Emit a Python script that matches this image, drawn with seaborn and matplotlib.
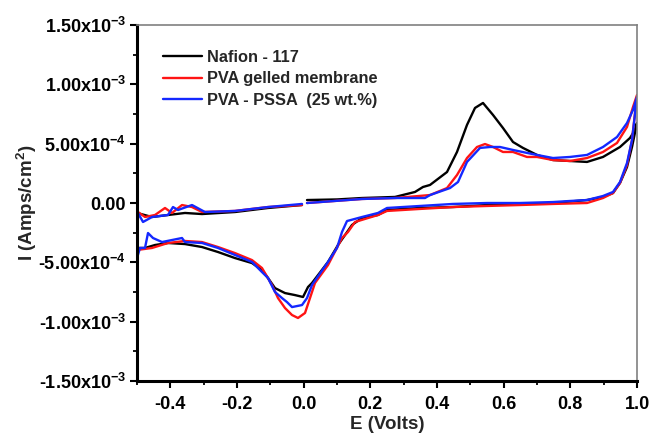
import numpy as np
import matplotlib
matplotlib.use("Agg")
import matplotlib.pyplot as plt
import seaborn as sns
from matplotlib.ticker import FixedLocator, FixedFormatter, MultipleLocator

sns.set_style("ticks")
plt.rcParams["font.family"] = ["Liberation Sans", "DejaVu Sans"]
plt.rcParams["font.weight"] = "bold"
plt.rcParams["mathtext.fontset"] = "custom"
plt.rcParams["mathtext.rm"] = "Liberation Sans:bold"
plt.rcParams["mathtext.bf"] = "Liberation Sans:bold"
plt.rcParams["mathtext.it"] = "Liberation Sans:bold"
plt.rcParams["mathtext.default"] = "bf"

# Cyclic voltammograms: scan 0 V -> 1.0 V -> -0.5 V -> 0 V.
# Potentials in V, current densities in units of 1e-4 A/cm^2.
E_nafion = [0.010, 0.100, 0.175, 0.274, 0.334, 0.358, 0.379, 0.430, 0.460, 0.490,
            0.514, 0.538, 0.568, 0.598, 0.628, 0.658, 0.700, 0.748, 0.799, 0.850,
            0.898, 0.949, 0.979, 0.994, 1.000,
            0.985, 0.970, 0.949, 0.928, 0.898, 0.850, 0.748, 0.649, 0.550, 0.448,
            0.349, 0.250, 0.223, 0.175, 0.145, 0.124, 0.103, 0.073, 0.025, 0.013,
            -0.002, -0.026, -0.056, -0.086, -0.107, -0.125, -0.155, -0.206, -0.257,
            -0.305, -0.356, -0.407, -0.446, -0.476, -0.500,
            -0.500, -0.455, -0.407, -0.356, -0.305, -0.206, -0.107, -0.005]
I_nafion = [0.25, 0.30, 0.42, 0.51, 0.93, 1.35, 1.52, 2.61, 4.30, 6.58,
            8.01, 8.43, 7.42, 6.32, 5.14, 4.64, 4.05, 3.62, 3.54, 3.46,
            3.88, 4.72, 5.48, 6.15, 6.74,
            4.72, 3.03, 1.69, 0.84, 0.51, 0.25, 0.00, -0.08, -0.17, -0.34,
            -0.42, -0.59, -1.01, -1.26, -1.85, -2.70, -3.54, -4.97, -6.74, -7.08,
            -7.92, -7.76, -7.59, -7.17, -6.32, -5.65, -5.06, -4.64, -4.13,
            -3.71, -3.46, -3.37, -3.54, -3.79, -3.79,
            -0.84, -1.18, -1.01, -0.84, -0.93, -0.76, -0.42, -0.17]

E_pva = [0.010, 0.175, 0.274, 0.379, 0.430, 0.460, 0.490, 0.520, 0.544, 0.568,
         0.598, 0.628, 0.670, 0.700, 0.748, 0.799, 0.850, 0.898, 0.940, 0.970,
         0.988, 1.000,
         0.985, 0.970, 0.949, 0.928, 0.898, 0.850, 0.748, 0.649, 0.550, 0.448,
         0.349, 0.250, 0.223, 0.154, 0.133, 0.115, 0.073, 0.034, 0.019, 0.004,
         -0.017, -0.035, -0.056, -0.077, -0.095, -0.125, -0.155, -0.206, -0.257,
         -0.305, -0.356, -0.407, -0.455, -0.500,
         -0.497, -0.476, -0.446, -0.416, -0.395, -0.365, -0.335, -0.305, -0.206,
         -0.107, -0.005]
I_pva = [0.00, 0.34, 0.42, 0.67, 1.26, 2.36, 3.79, 4.72, 4.97, 4.72,
         4.30, 4.30, 3.88, 3.88, 3.62, 3.54, 3.79, 4.30, 5.06, 6.41,
         8.09, 9.10,
         5.30, 3.20, 1.69, 0.84, 0.42, 0.00, -0.08, -0.17, -0.25, -0.34,
         -0.50, -0.67, -1.01, -1.60, -2.44, -2.95, -5.23, -6.74, -8.01, -9.27,
         -9.69, -9.44, -8.85, -8.01, -6.91, -5.48, -4.81, -4.22, -3.71,
         -3.29, -3.20, -3.37, -3.79, -3.96,
         -0.76, -1.18, -1.01, -0.42, -0.84, -0.17, -0.34, -0.76, -0.67,
         -0.34, -0.17]

E_pssa = [0.010, 0.175, 0.274, 0.364, 0.379, 0.439, 0.463, 0.490, 0.529, 0.559,
          0.589, 0.628, 0.670, 0.700, 0.748, 0.799, 0.850, 0.898, 0.940, 0.970,
          0.988, 1.000,
          0.985, 0.970, 0.949, 0.928, 0.898, 0.850, 0.799, 0.748, 0.649, 0.550,
          0.448, 0.349, 0.250, 0.223, 0.175, 0.130, 0.115, 0.100, 0.073, 0.025,
          0.010, -0.005, -0.035, -0.050, -0.065, -0.086, -0.107, -0.125, -0.155,
          -0.206, -0.257, -0.305, -0.356, -0.365, -0.425, -0.452, -0.467, -0.476,
          -0.491, -0.500,
          -0.497, -0.482, -0.455, -0.407, -0.392, -0.377, -0.335, -0.296, -0.206,
          -0.107, -0.005]
I_pssa = [0.00, 0.34, 0.42, 0.42, 0.67, 1.26, 1.77, 3.46, 4.64, 4.72,
          4.72, 4.47, 4.22, 4.05, 3.79, 3.88, 4.05, 4.72, 5.56, 6.74,
          7.84, 8.94,
          5.30, 3.37, 1.77, 0.93, 0.59, 0.25, 0.17, 0.08, 0.00, 0.00,
          -0.08, -0.25, -0.42, -0.84, -1.18, -1.52, -2.44, -3.79, -4.97, -6.91,
          -8.01, -8.60, -8.77, -8.35, -8.01, -7.50, -6.32, -5.82, -4.97,
          -4.38, -3.79, -3.37, -3.29, -2.95, -3.29, -2.95, -2.53, -3.79,
          -3.79, -4.64,
          -0.84, -1.60, -1.18, -1.01, -0.34, -0.59, -0.17, -0.76, -0.67,
          -0.34, -0.08]

labels = ["Nafion - 117", "PVA gelled membrane", "PVA - PSSA  (25 wt.%)"]
colors = ["#000000", "#ff1414", "#1428ff"]

x_ticks = [-0.4, -0.2, 0.0, 0.2, 0.4, 0.6, 0.8, 1.0]
x_ticklabels = ["-0.4", "-0.2", "0.0", "0.2", "0.4", "0.6", "0.8", "1.0"]
y_ticks = [1.5e-3, 1.0e-3, 5.0e-4, 0.0, -5.0e-4, -1.0e-3, -1.5e-3]
y_ticklabels = ["1.50x10$^{-3}$", "1.00x10$^{-3}$", "5.00x10$^{-4}$", "0.00",
                "-5.00x10$^{-4}$", "-1.00x10$^{-3}$", "-1.50x10$^{-3}$"]

fig = plt.figure(figsize=(6.53, 4.34), dpi=100)
ax = fig.add_axes([137 / 653, 53 / 434, 500 / 653, 356 / 434])

series = [(E_nafion, I_nafion), (E_pva, I_pva), (E_pssa, I_pssa)]
for (e, i), lab, col in zip(series, labels, colors):
    sns.lineplot(x=np.asarray(e), y=np.asarray(i) * 1e-4, sort=False,
                 estimator=None, color=col, lw=1.7, label=lab, ax=ax)

ax.set_xlim(-0.5, 1.0)
ax.set_ylim(-1.5e-3, 1.5e-3)

ax.xaxis.set_major_locator(FixedLocator(x_ticks))
ax.xaxis.set_major_formatter(FixedFormatter(x_ticklabels))
ax.xaxis.set_minor_locator(MultipleLocator(0.1))
ax.yaxis.set_major_locator(FixedLocator(y_ticks))
ax.yaxis.set_major_formatter(FixedFormatter(y_ticklabels))
ax.yaxis.set_minor_locator(MultipleLocator(2.5e-4))

ax.tick_params(which="major", direction="out", length=5, width=1.5,
               labelsize=13, pad=3, color="black", labelcolor="black")
ax.tick_params(which="minor", direction="out", length=3, width=1.3,
               color="black")
ax.tick_params(axis="x", which="major", pad=6)
ax.tick_params(top=False, right=False, which="both")

for s in ["left", "bottom"]:
    ax.spines[s].set_linewidth(2.2)
    ax.spines[s].set_color("black")
for s in ["top", "right"]:
    ax.spines[s].set_linewidth(1.2)
    ax.spines[s].set_color("#808080")

ax.set_xlabel("E (Volts)", fontsize=13.5, fontweight="bold")
ax.set_ylabel("I (Amps/cm$^{2}$)", fontsize=13.5, fontweight="bold")
ax.xaxis.set_label_coords(0.5, -0.098)
ax.yaxis.set_label_coords(-0.196, 0.5)

ax.legend(loc="upper left", bbox_to_anchor=(0.052, 0.93), frameon=False,
          fontsize=11.8, handlelength=2.4, handletextpad=0.3,
          labelspacing=0.4, borderaxespad=0, borderpad=0)

fig.savefig("out.png", dpi=100)
